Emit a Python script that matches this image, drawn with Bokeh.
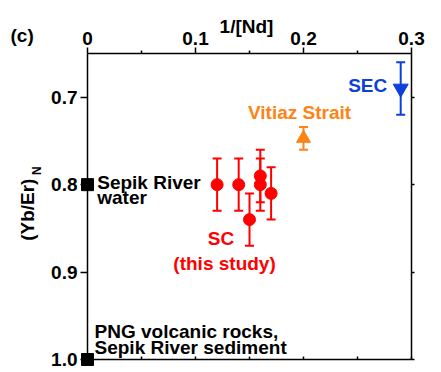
import math
from bokeh.plotting import figure
from bokeh.models import (Range1d, LinearAxis, FixedTicker, CustomJSTickFormatter,
                          ColumnDataSource, Whisker, TeeHead)
from bokeh.core.properties import value
from bokeh.embed import file_html
from bokeh.resources import INLINE

# ---------------- data ----------------
sc_x = [0.12, 0.14, 0.15, 0.16, 0.16, 0.17]
sc_y = [0.80, 0.80, 0.84, 0.79, 0.80, 0.81]
sc_err = [0.03, 0.03, 0.03, 0.03, 0.03, 0.03]

vit_x = [0.20]
vit_y = [0.747]
vit_err = [0.013]

sec_x = [0.29]
sec_y = [0.69]
sec_err = [0.03]

ref_x = [0.0, 0.0]
ref_y = [0.80, 1.00]

x_ticks = [0.0, 0.1, 0.2, 0.3]
x_minor = [0.05, 0.15, 0.25]
y_ticks = [0.7, 0.8, 0.9, 1.0]

note_text = ["Sepik River", "water", "SC", "(this study)", "Vitiaz Strait", "SEC",
             "PNG volcanic rocks,", "Sepik River sediment"]
x_title = "1/[Nd]"
y_title = "(Yb/Er)"
y_title_sub = "N"
panel_tag = "(c)"

# ---------------- styles / layout ----------------
RED = "#FF0000"
ORANGE = "#FF8214"
BLUE = "#0D3FD9"
FONT = "Liberation Sans"
FS = "19px"
DY = -5 / 870.0   # small upward nudge of text baselines (pixels -> data)
DX = -4 / 1080.0

note_pos_x = [0.0090, 0.0090, 0.1236, 0.1269, 0.1963, 0.2775, 0.0065, 0.0065]
note_pos_y = [0.8032, 0.8204, 0.8675, 0.8957, 0.7233, 0.6928, 0.9736, 0.9920]
note_align = ["left", "left", "center", "center", "center", "right", "left", "left"]
note_color = ["black", "black", RED, RED, ORANGE, BLUE, "black", "black"]

p = figure(width=441, height=372, output_backend="svg", toolbar_location=None,
           x_range=Range1d(0, 0.3), y_range=Range1d(1.0, 0.65),
           x_axis_location="above",
           min_border_left=87, min_border_right=30,
           min_border_top=53, min_border_bottom=13)
p.grid.visible = False
p.outline_line_color = None
p.background_fill_color = "white"
p.border_fill_color = "white"


def style_axis(ax):
    ax.axis_line_width = 1.5
    ax.axis_line_color = "black"
    ax.major_tick_line_width = 1.5
    ax.minor_tick_line_width = 1.5
    ax.major_label_text_font = FONT
    ax.major_label_text_font_style = "bold"
    ax.major_label_text_font_size = FS
    ax.major_label_text_color = "black"


# top axis
top = p.xaxis[0]
top.ticker = FixedTicker(ticks=x_ticks, minor_ticks=x_minor)
top.formatter = CustomJSTickFormatter(code="return tick == 0 ? '0' : tick.toFixed(1);")
style_axis(top)
top.major_tick_out = 6
top.major_tick_in = 0
top.minor_tick_out = 3
top.minor_tick_in = 0
top.major_label_standoff = 3

# bottom axis
bottom = LinearAxis(ticker=FixedTicker(ticks=x_ticks, minor_ticks=x_minor),
                    formatter=CustomJSTickFormatter(code="return '';"))
style_axis(bottom)
bottom.major_tick_in = 3
bottom.major_tick_out = 0
bottom.minor_tick_in = 3
bottom.minor_tick_out = 0
p.add_layout(bottom, "below")

# left axis
left = p.yaxis[0]
left.ticker = FixedTicker(ticks=y_ticks, minor_ticks=[])
left.formatter = CustomJSTickFormatter(code="return tick.toFixed(1);")
style_axis(left)
left.major_tick_out = 7
left.major_tick_in = 0
left.minor_tick_out = 0
left.minor_tick_in = 0
left.major_label_standoff = 3

# right axis
right = LinearAxis(ticker=FixedTicker(ticks=y_ticks, minor_ticks=[]),
                   formatter=CustomJSTickFormatter(code="return '';"))
style_axis(right)
right.major_tick_out = 3
right.major_tick_in = 0
right.minor_tick_out = 0
right.minor_tick_in = 0
p.add_layout(right, "right")


def add_series(xs, ys, errs, color, marker, size):
    src = ColumnDataSource(dict(
        x=xs, y=ys,
        lo=[y - e for y, e in zip(ys, errs)],
        hi=[y + e for y, e in zip(ys, errs)]))
    w = Whisker(source=src, base="x", lower="lo", upper="hi", dimension="height",
                line_color=color, line_width=2,
                upper_head=TeeHead(size=9, line_color=color, line_width=2),
                lower_head=TeeHead(size=9, line_color=color, line_width=2))
    p.add_layout(w)
    p.scatter("x", "y", source=src, marker=marker, size=size,
              fill_color=color, line_color=color)


add_series(sc_x, sc_y, sc_err, RED, "circle", 12)
add_series(vit_x, vit_y, vit_err, ORANGE, "triangle", 14)
add_series(sec_x, sec_y, sec_err, BLUE, "inverted_triangle", 15)

# reference squares: overlay level so they are not clipped at the frame edge
p.scatter(ref_x, ref_y, marker="square", size=12, fill_color="black",
          line_color="black", level="overlay")

# text annotations inside the frame
for al in ["left", "center", "right"]:
    idx = [i for i, a in enumerate(note_align) if a == al]
    src = ColumnDataSource(dict(
        x=[note_pos_x[i] for i in idx], y=[note_pos_y[i] + DY for i in idx],
        t=[note_text[i] for i in idx], c=[note_color[i] for i in idx]))
    p.text(x="x", y="y", text="t", source=src, text_color="c",
           text_align=al, text_baseline="alphabetic",
           text_font=value(FONT), text_font_style="bold",
           text_font_size=value(FS), level="overlay")

# axis titles and panel letter (overlay texts outside the frame)
p.text(x=[0.1472], y=[0.621 + DY * 0.4], text=[x_title], text_align="center",
       text_baseline="alphabetic", text_font=value(FONT), text_font_style="bold",
       text_font_size=value(FS), text_color="black", level="overlay")
p.text(x=[-0.0713], y=[0.6353 + DY], text=[panel_tag], text_align="left",
       text_baseline="alphabetic", text_font=value(FONT), text_font_style="bold",
       text_font_size=value(FS), text_color="black", level="overlay")
p.text(x=[-0.0519 + DX], y=[0.8287], text=[y_title], angle=math.pi / 2,
       text_align="center", text_baseline="alphabetic", text_font=value(FONT),
       text_font_style="bold", text_font_size=value(FS), text_color="black",
       level="overlay")
p.text(x=[-0.0447 + DX * 0.5], y=[0.7839], text=[y_title_sub], angle=math.pi / 2,
       text_align="center", text_baseline="alphabetic", text_font=value(FONT),
       text_font_style="bold", text_font_size=value("12px"), text_color="black",
       level="overlay")

open("out.html", "w").write(file_html(p, INLINE))
